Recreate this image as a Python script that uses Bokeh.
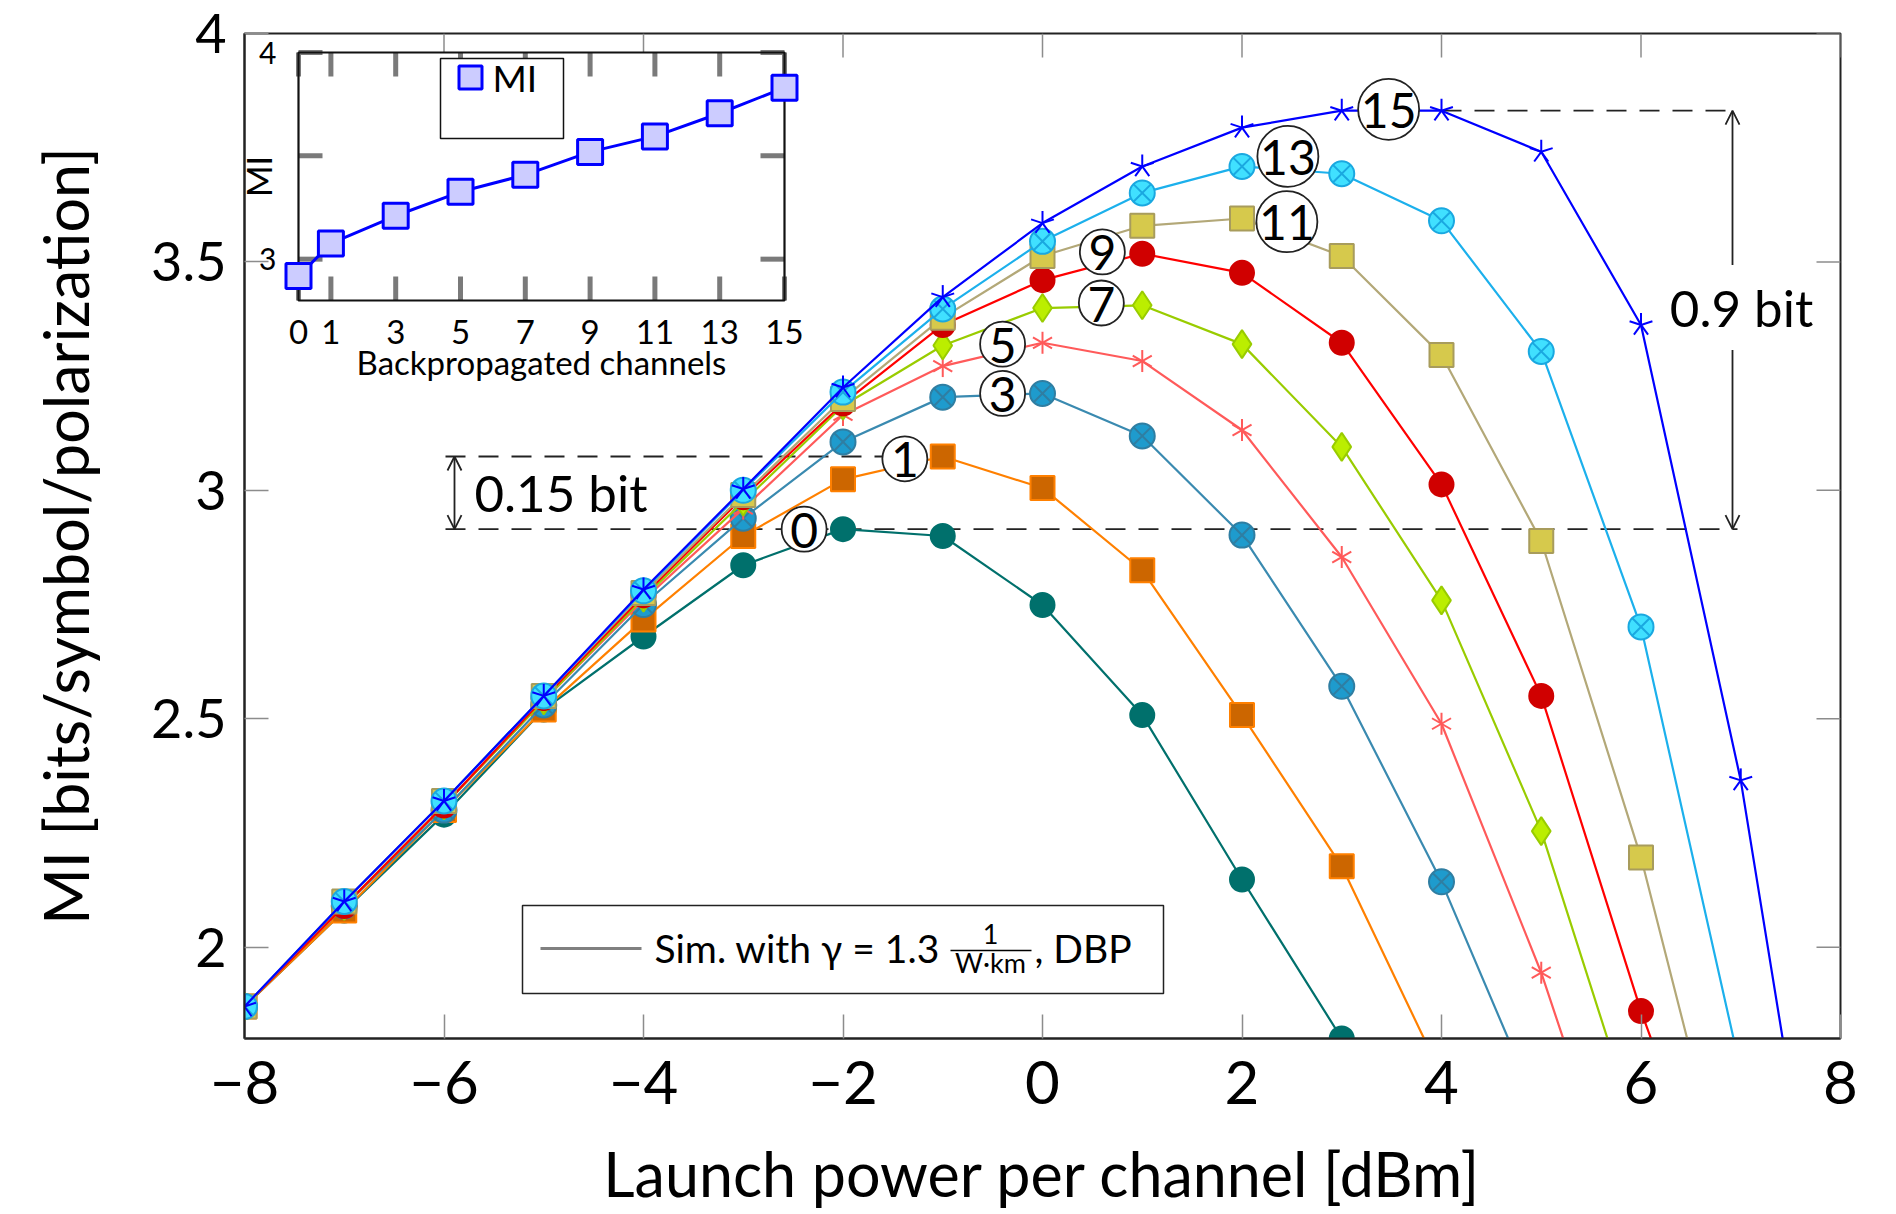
from bokeh.plotting import figure
from bokeh.models import Range1d, FixedTicker, Arrow, OpenHead, Label
from bokeh.core.properties import value
from bokeh.embed import file_html
from bokeh.resources import INLINE

FONT = "Lato"

# ---------------- data ----------------
power_dbm = [-8, -7, -6, -5, -4, -3, -2, -1, 0, 1, 2, 3, 4, 5, 6, 7, 8]

mi_dbp0 = [1.87, 2.08, 2.29, 2.52, 2.68, 2.836, 2.915, 2.90, 2.749, 2.508, 2.148, 1.80]
mi_dbp1 = [1.87, 2.08, 2.30, 2.52, 2.717, 2.90, 3.024, 3.074, 3.005, 2.825, 2.508, 2.177, 1.72]
mi_dbp3 = [1.87, 2.09, 2.30, 2.53, 2.75, 2.939, 3.106, 3.204, 3.212, 3.119, 2.902, 2.571, 2.143, 1.63]
mi_dbp5 = [1.87, 2.09, 2.31, 2.54, 2.76, 2.96, 3.165, 3.272, 3.323, 3.283, 3.132, 2.854, 2.489, 1.944, 1.29]
mi_dbp7 = [1.87, 2.09, 2.31, 2.54, 2.765, 2.975, 3.185, 3.317, 3.399, 3.405, 3.32, 3.095, 2.759, 2.254, 1.57]
mi_dbp9 = [1.87, 2.09, 2.31, 2.545, 2.77, 2.985, 3.19, 3.362, 3.46, 3.518, 3.476, 3.323, 3.013, 2.55, 1.86, 1.26]
mi_dbp11 = [1.87, 2.10, 2.32, 2.55, 2.775, 2.99, 3.20, 3.378, 3.513, 3.579, 3.595, 3.513, 3.296, 2.889, 2.196, 1.34]
mi_dbp13 = [1.87, 2.10, 2.32, 2.55, 2.78, 3.00, 3.215, 3.397, 3.545, 3.651, 3.709, 3.693, 3.59, 3.304, 2.701, 1.73]
mi_dbp15 = [1.87, 2.10, 2.32, 2.55, 2.783, 3.003, 3.225, 3.423, 3.585, 3.709, 3.794, 3.831, 3.831, 3.741, 3.362, 2.365, 1.02]

backprop_channels = [0, 1, 3, 5, 7, 9, 11, 13, 15]
mi_vs_channels = [2.918, 3.076, 3.21, 3.326, 3.408, 3.519, 3.594, 3.706, 3.83]

peak_labels = ["0", "1", "3", "5", "7", "9", "11", "13", "15"]
peak_label_x = [-2.39, -1.38, -0.40, -0.40, 0.59, 0.60, 2.45, 2.46, 3.47]
peak_label_y = [2.915, 3.069, 3.212, 3.320, 3.410, 3.522, 3.588, 3.731, 3.834]

x_ticks = [-8, -6, -4, -2, 0, 2, 4, 6, 8]
x_tick_labels = ["\u22128", "\u22126", "\u22124", "\u22122", "0", "2", "4", "6", "8"]
y_ticks = [2, 2.5, 3, 3.5, 4]
y_tick_labels = ["2", "2.5", "3", "3.5", "4"]

inset_x_ticks = [0, 1, 3, 5, 7, 9, 11, 13, 15]
inset_x_tick_labels = ["0", "1", "3", "5", "7", "9", "11", "13", "15"]
inset_y_ticks = [3, 3.5, 4]
inset_y_label_ticks = [3, 4]
inset_y_tick_labels = ["3", "4"]

X_MIN, X_MAX, Y_MIN, Y_MAX = -8, 8, 1.8, 4.0
IX_MIN, IX_MAX, IY_MIN, IY_MAX = 0, 15, 2.8, 4.0

# ---------------- layout geometry (page pixels) ----------------
FRAME_L, FRAME_R, FRAME_T, FRAME_B = 244, 1840, 33, 1038
TICK_LEN = 24


def dx(px):
    return X_MIN + (px - FRAME_L) / (FRAME_R - FRAME_L) * (X_MAX - X_MIN)


def dy(py):
    return Y_MAX - (py - FRAME_T) / (FRAME_B - FRAME_T) * (Y_MAX - Y_MIN)


p = figure(
    frame_width=FRAME_R - FRAME_L, frame_height=FRAME_B - FRAME_T,
    x_range=Range1d(X_MIN, X_MAX), y_range=Range1d(Y_MIN, Y_MAX),
    output_backend="svg", toolbar_location=None,
    min_border_left=FRAME_L, min_border_top=FRAME_T,
    min_border_right=1888 - FRAME_R, min_border_bottom=1212 - FRAME_B,
    background_fill_color="white", border_fill_color="white",
)
p.xgrid.visible = False
p.ygrid.visible = False
p.outline_line_color = "#222222"
p.outline_line_width = 2

TICK_COL = "#8c8c8c"


def style_axis(ax, ticks, labels, tick_font):
    ax.ticker = FixedTicker(ticks=ticks)
    ax.major_label_overrides = {t: l for t, l in zip(ticks, labels)}
    ax.major_tick_in = TICK_LEN
    ax.major_tick_out = 0
    ax.minor_tick_in = 0
    ax.minor_tick_out = 0
    ax.major_tick_line_color = TICK_COL
    ax.major_tick_line_width = 1.5
    ax.axis_line_color = "#222222"
    ax.axis_line_width = 2
    ax.major_label_text_font = FONT
    ax.major_label_text_color = "black"
    ax.major_label_text_font_size = tick_font
    ax.axis_label_text_font = FONT
    ax.axis_label_text_font_size = "61px"
    ax.axis_label_text_font_style = "normal"
    ax.axis_label_text_color = "black"


xa = p.xaxis[0]
style_axis(xa, x_ticks, x_tick_labels, "60px")
xa.major_label_standoff = 22
xa.axis_label = "Launch power per channel [dBm]"
xa.axis_label_standoff = 30

ya = p.yaxis[0]
style_axis(ya, y_ticks, y_tick_labels, "54px")
ya.major_label_standoff = 18
ya.major_label_orientation = "horizontal"
ya.axis_label = "MI [bits/symbol/polarization]"
ya.axis_label_standoff = 46

# mirrored inward ticks on top and right edges of the frame
tlx = TICK_LEN / (FRAME_R - FRAME_L) * (X_MAX - X_MIN)
tly = TICK_LEN / (FRAME_B - FRAME_T) * (Y_MAX - Y_MIN)
p.segment(x0=x_ticks, y0=[Y_MAX] * len(x_ticks), x1=x_ticks, y1=[Y_MAX - tly] * len(x_ticks),
          line_color=TICK_COL, line_width=1.5)
p.segment(x0=[X_MAX] * len(y_ticks), y0=y_ticks, x1=[X_MAX - tlx] * len(y_ticks), y1=y_ticks,
          line_color=TICK_COL, line_width=1.5)

# ---------------- dashed reference lines (under the curves) ----------------
peak0 = max(mi_dbp0)
peak1 = max(mi_dbp1)
peak15 = max(mi_dbp15)
dash_left = dx(445)
dash_right = dx(1737)
DASH = dict(line_color="#222222", line_width=1.8, line_dash="20 13")
p.segment(x0=[dash_left, dash_left, power_dbm[mi_dbp15.index(peak15)] + 1],
          y0=[peak0, peak1, peak15],
          x1=[dash_right, peak_label_x[1], dash_right],
          y1=[peak0, peak1, peak15], **DASH)

# ---------------- series ----------------
series = [
    dict(vals=mi_dbp0, line="#00706c", marker="circle", fill="#00706c", edge="#00706c", size=24),
    dict(vals=mi_dbp1, line="#ff8000", marker="square", fill="#cc6600", edge="#ff8000", size=24),
    dict(vals=mi_dbp3, line="#3a8ab0", marker="circle_x", fill="#1e9bcd", edge="#2f7ea2", size=25),
    dict(vals=mi_dbp5, line="#ff5a5a", marker="asterisk6", fill=None, edge="#ff5a5a", size=11),
    dict(vals=mi_dbp7, line="#99cc00", marker="diamond", fill="#bbee00", edge="#99cc00", size=28),
    dict(vals=mi_dbp9, line="#ff0000", marker="circle", fill="#d00000", edge="#d00000", size=24),
    dict(vals=mi_dbp11, line="#b3a878", marker="square", fill="#d6c94c", edge="#a89c5c", size=24),
    dict(vals=mi_dbp13, line="#1cb0ec", marker="circle_x", fill="#40e0ff", edge="#1aa8e0", size=25),
    dict(vals=mi_dbp15, line="#0000ff", marker="star5", fill=None, edge="#0000ff", size=12),
]

RAY_ANGLES = {
    "star5": [90, 162, 234, 306, 18],
    "asterisk6": [90, 150, 210, 270, 330, 30],
}

for s in series:
    xs = power_dbm[:len(s["vals"])]
    ys = s["vals"]
    p.line(xs, ys, line_color=s["line"], line_width=2.2)
    if s["marker"] in RAY_ANGLES:
        for a in RAY_ANGLES[s["marker"]]:
            p.ray(x=xs, y=ys, length=s["size"], length_units="screen", angle=a,
                  angle_units="deg", line_color=s["edge"], line_width=2)
    else:
        p.scatter(xs, ys, marker=s["marker"], size=s["size"], fill_color=s["fill"],
                  line_color=s["edge"], line_width=2)

# ---------------- arrows ----------------
arr_l = dx(454)
arr_r = dx(1732)
for xa_, y0, y1 in [(arr_l, peak1, peak0), (arr_r, peak15, peak0)]:
    p.add_layout(Arrow(x_start=xa_, y_start=y0, x_end=xa_, y_end=y1,
                       line_color="#222222", line_width=1.8,
                       start=OpenHead(size=14, line_color="#222222", line_width=1.8),
                       end=OpenHead(size=14, line_color="#222222", line_width=1.8)))

p.add_layout(Label(x=dx(474), y=(peak0 + peak1) / 2, text="0.15 bit", text_font=FONT,
                   text_font_size="51px", text_align="left", text_baseline="middle",
                   text_color="black"))
p.add_layout(Label(x=dx(1741), y=dy(307), text="0.9 bit", text_font=FONT,
                   text_font_size="51px", text_align="center", text_baseline="middle",
                   text_color="black", background_fill_color="white", padding=12))

# ---------------- circled peak labels ----------------
p.scatter(peak_label_x, peak_label_y, marker="circle",
          size=[45 if len(t) == 1 else 61 for t in peak_labels],
          fill_color="white", line_color="#222222", line_width=1.8)
p.text(peak_label_x, peak_label_y, text=peak_labels, text_align="center",
       text_baseline="middle", text_font=value(FONT), text_font_size="48px",
       text_color="black", y_offset=1)

# ---------------- legend (main) ----------------
p.quad(left=dx(522), right=dx(1163), top=dy(905), bottom=dy(993),
       fill_color="white", line_color="#222222", line_width=1.5)
p.segment(x0=[dx(540)], y0=[dy(948)], x1=[dx(641)], y1=[dy(948)],
          line_color="#808080", line_width=3)
p.text([dx(654)], [dy(947)], text=["Sim. with \u03b3 = 1.3"], text_align="left",
       text_baseline="alphabetic", text_font=value(FONT), text_font_size="39px",
       text_color="black")
p.text([dx(990)], [dy(933)], text=["1"], text_align="center", text_baseline="alphabetic",
       text_font=value(FONT), text_font_size="27px", text_color="black")
p.segment(x0=[dx(950)], y0=[dy(950)], x1=[dx(1031)], y1=[dy(950)],
          line_color="black", line_width=1.5)
p.text([dx(990)], [dy(962)], text=["W\u00b7km"], text_align="center",
       text_baseline="alphabetic", text_font=value(FONT), text_font_size="27px",
       text_color="black")
p.text([dx(1034)], [dy(947)], text=[", DBP"], text_align="left", text_baseline="alphabetic",
       text_font=value(FONT), text_font_size="39px", text_color="black")

# ---------------- inset (sub-coordinate system) ----------------
IN_L, IN_R, IN_T, IN_B = 298, 784, 52, 300  # page pixels of inset frame
sub = p.subplot(
    x_source=Range1d(IX_MIN, IX_MAX), y_source=Range1d(IY_MIN, IY_MAX),
    x_target=Range1d(dx(IN_L), dx(IN_R)), y_target=Range1d(dy(IN_B), dy(IN_T)),
)
ipx_x = (IN_R - IN_L) / (IX_MAX - IX_MIN)   # px per inset x unit
ipx_y = (IN_B - IN_T) / (IY_MAX - IY_MIN)   # px per inset y unit
tick_len_y = 24 / ipx_y
tick_len_x = 24 / ipx_x

sub.quad(left=IX_MIN, right=IX_MAX, bottom=IY_MIN, top=IY_MAX,
         fill_color="white", line_color=None)
INSET_TICK = dict(line_color="#7a7a7a", line_width=5)
sub.segment(x0=inset_x_ticks, y0=[IY_MIN] * len(inset_x_ticks),
            x1=inset_x_ticks, y1=[IY_MIN + tick_len_y] * len(inset_x_ticks), **INSET_TICK)
sub.segment(x0=inset_x_ticks, y0=[IY_MAX] * len(inset_x_ticks),
            x1=inset_x_ticks, y1=[IY_MAX - tick_len_y] * len(inset_x_ticks), **INSET_TICK)
sub.segment(x0=[IX_MIN] * len(inset_y_ticks), y0=inset_y_ticks,
            x1=[IX_MIN + tick_len_x] * len(inset_y_ticks), y1=inset_y_ticks, **INSET_TICK)
sub.segment(x0=[IX_MAX] * len(inset_y_ticks), y0=inset_y_ticks,
            x1=[IX_MAX - tick_len_x] * len(inset_y_ticks), y1=inset_y_ticks, **INSET_TICK)
sub.quad(left=IX_MIN, right=IX_MAX, bottom=IY_MIN, top=IY_MAX,
         fill_color=None, line_color="#111111", line_width=2.2)

sub.text(inset_x_ticks, [IY_MIN] * len(inset_x_ticks), text=inset_x_tick_labels,
         text_align="center", text_baseline="top", y_offset=19,
         text_font=value(FONT), text_font_size="33px", text_color="black")
sub.text([(IX_MIN + IX_MAX) / 2], [IY_MIN], text=["Backpropagated channels"],
         text_align="center", text_baseline="top", y_offset=41,
         text_font=value(FONT), text_font_size="33px", text_color="black")
sub.text([IX_MIN] * len(inset_y_label_ticks), inset_y_label_ticks, text=inset_y_tick_labels,
         text_align="right", text_baseline="middle", x_offset=-22,
         text_font=value(FONT), text_font_size="30px", text_color="black")
sub.text([IX_MIN], [(IY_MIN + IY_MAX) / 2], text=["MI"], angle=90, angle_units="deg",
         text_align="center", text_baseline="middle", x_offset=-40,
         text_font=value(FONT), text_font_size="34px", text_color="black")

sub.line(backprop_channels, mi_vs_channels, line_color="#0000ff", line_width=3)
sub.scatter(backprop_channels, mi_vs_channels, marker="square", size=25,
            fill_color="#ccccff", line_color="#0000ff", line_width=3)

# inset legend
sub.quad(left=IX_MIN + (440 - IN_L) / ipx_x, right=IX_MIN + (563 - IN_L) / ipx_x,
         top=IY_MAX - (58 - IN_T) / ipx_y, bottom=IY_MAX - (138 - IN_T) / ipx_y,
         fill_color="white", line_color="#111111", line_width=1.5)
leg_y = IY_MAX - (77 - IN_T) / ipx_y
sub.scatter([IX_MIN + (470 - IN_L) / ipx_x], [leg_y], marker="square", size=23,
            fill_color="#ccccff", line_color="#0000ff", line_width=3)
sub.text([IX_MIN + (492 - IN_L) / ipx_x], [leg_y], text=["MI"], text_align="left",
         text_baseline="middle", text_font=value(FONT), text_font_size="37px",
         text_color="black")

open("out.html", "w").write(file_html(p, INLINE))
